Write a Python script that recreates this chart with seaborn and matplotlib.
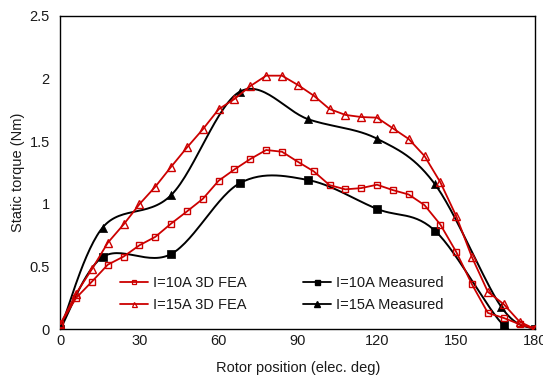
import numpy as np
import pandas as pd
import matplotlib
matplotlib.use("Agg")
import matplotlib.pyplot as plt
from matplotlib.lines import Line2D
import seaborn as sns

# ---------------- data ----------------
fea_pos = [0, 6, 12, 18, 24, 30, 36, 42, 48, 54, 60, 66, 72, 78, 84, 90,
           96, 102, 108, 114, 120, 126, 132, 138, 144, 150, 156, 162, 168, 174, 180]
fea_10a = [0.04, 0.25, 0.38, 0.515, 0.58, 0.67, 0.737, 0.843, 0.94, 1.04, 1.185,
           1.275, 1.358, 1.43, 1.416, 1.336, 1.26, 1.15, 1.116, 1.126, 1.153,
           1.11, 1.075, 0.99, 0.835, 0.617, 0.357, 0.13, 0.09, 0.04, 0.0]
fea_15a = [0.04, 0.285, 0.48, 0.69, 0.836, 0.998, 1.137, 1.296, 1.45, 1.595, 1.755,
           1.837, 1.94, 2.023, 2.023, 1.949, 1.864, 1.757, 1.71, 1.693, 1.688,
           1.603, 1.518, 1.382, 1.172, 0.903, 0.573, 0.298, 0.2, 0.06, 0.0]

meas_pos_10a = [0, 16, 42, 68, 94, 120, 142, 168, 180]
meas_10a = [0.0, 0.575, 0.60, 1.165, 1.19, 0.96, 0.785, 0.03, 0.0]
meas_pos_15a = [0, 16, 42, 68, 94, 120, 142, 167, 180]
meas_15a = [0.0, 0.81, 1.07, 1.895, 1.675, 1.52, 1.155, 0.18, 0.0]

labels = ["I=10A 3D FEA", "I=15A 3D FEA", "I=10A Measured", "I=15A Measured"]
x_ticks = [0, 30, 60, 90, 120, 150, 180]
y_ticks = [0, 0.5, 1, 1.5, 2, 2.5]
y_tick_labels = ["0", "0.5", "1", "1.5", "2", "2.5"]
x_label = "Rotor position (elec. deg)"
y_label = "Static torque (Nm)"


def smooth(xs, ys, n=30):
    """Excel-like smoothed line (Catmull-Rom Bezier) used only for drawing."""
    p = np.column_stack([xs, ys]).astype(float)
    out = []
    for i in range(len(p) - 1):
        p0 = p[i - 1] if i > 0 else p[i]
        p1, p2 = p[i], p[i + 1]
        p3 = p[i + 2] if i + 2 < len(p) else p[i + 1]
        c1 = p1 + (p2 - p0) / 6.0
        c2 = p2 - (p3 - p1) / 6.0
        t = np.linspace(0, 1, n, endpoint=False)[:, None]
        seg = ((1 - t) ** 3) * p1 + 3 * ((1 - t) ** 2) * t * c1 + 3 * (1 - t) * t ** 2 * c2 + t ** 3 * p2
        out.append(seg)
    out.append(p[-1][None, :])
    s = np.vstack(out)
    return s[:, 0], s[:, 1]


sns.set_theme(style="white")
plt.rcParams["font.family"] = ["Liberation Sans", "DejaVu Sans"]

RED = "#CC0000"
TXT = "#1a1a1a"
FS = 10.5
fig = plt.figure(figsize=(5.43, 3.78), dpi=100)
ax = fig.add_axes([0.111, 0.129, 0.875, 0.829])

# measured (black smooth curves with filled markers)
for xs, ys, mk in [(meas_pos_10a, meas_10a, "s"), (meas_pos_15a, meas_15a, "^")]:
    sx, sy = smooth(xs, ys)
    sns.lineplot(x=sx, y=sy, ax=ax, color="black", lw=1.4, sort=False, estimator=None, zorder=3)
    sns.scatterplot(x=xs, y=ys, ax=ax, color="black", marker=mk, s=30 if mk == "s" else 34,
                    edgecolor="black", linewidth=0.5, zorder=4)

# FEA (red straight lines, hollow markers)
df = pd.DataFrame({"pos": fea_pos, "a10": fea_10a, "a15": fea_15a})
sns.lineplot(data=df, x="pos", y="a10", ax=ax, color=RED, lw=1.3, marker="s", markersize=5,
             markerfacecolor="none", markeredgecolor=RED, markeredgewidth=1.0,
             sort=False, estimator=None, zorder=5)
sns.lineplot(data=df, x="pos", y="a15", ax=ax, color=RED, lw=1.3, marker="^", markersize=5.5,
             markerfacecolor="none", markeredgecolor=RED, markeredgewidth=1.0,
             sort=False, estimator=None, zorder=5)

ax.set_xlim(0, 180)
ax.set_ylim(0, 2.5)
ax.set_xticks(x_ticks)
ax.set_xticklabels([str(v) for v in x_ticks])
ax.set_yticks(y_ticks)
ax.set_yticklabels(y_tick_labels)
ax.tick_params(axis="both", direction="in", length=4, width=1, color="black",
               labelsize=FS, labelcolor=TXT)
ax.tick_params(axis="x", pad=3.5)
ax.tick_params(axis="y", pad=7.5)
ax.set_xlabel(x_label, fontsize=FS, color=TXT, labelpad=9)
ax.set_ylabel(y_label, fontsize=FS, color=TXT, labelpad=3)
for sp in ax.spines.values():
    sp.set_color("black")
    sp.set_linewidth(1.0)
    sp.set_visible(True)

handles = [
    Line2D([], [], color=RED, lw=1.3, marker="s", markersize=3.4, markerfacecolor="none",
           markeredgecolor=RED, markeredgewidth=0.9),
    Line2D([], [], color=RED, lw=1.3, marker="^", markersize=3.6, markerfacecolor="none",
           markeredgecolor=RED, markeredgewidth=0.9),
    Line2D([], [], color="black", lw=1.3, marker="s", markersize=3.6),
    Line2D([], [], color="black", lw=1.3, marker="^", markersize=3.8),
]
ax.legend(handles, labels, ncol=2, frameon=False, fontsize=FS,
          loc="center left", bbox_to_anchor=(0.1256, 0.112), borderpad=0, borderaxespad=0,
          handlelength=1.92, handletextpad=0.34, columnspacing=3.9, labelspacing=0.5,
          labelcolor=TXT)

fig.savefig("out.png", dpi=100)
